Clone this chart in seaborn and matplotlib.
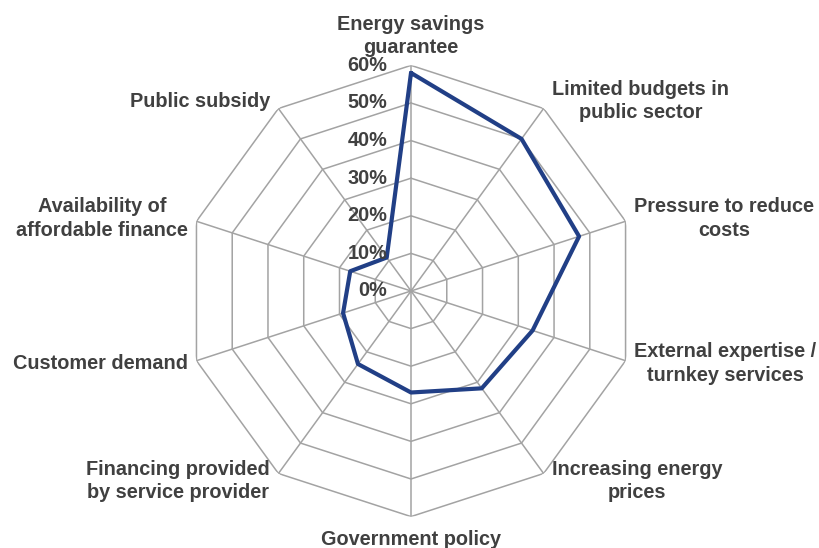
import numpy as np
import pandas as pd
import matplotlib
matplotlib.use("Agg")
import matplotlib.pyplot as plt
import seaborn as sns

categories = [
    "Energy savings\nguarantee",
    "Limited budgets in\npublic sector",
    "Pressure to reduce\ncosts",
    "External expertise /\nturnkey services",
    "Increasing energy\nprices",
    "Government policy",
    "Financing provided\nby service provider",
    "Customer demand",
    "Availability of\naffordable finance",
    "Public subsidy",
]
shares = [58, 50, 47, 34, 32, 27, 24, 19, 17, 11]
rings = [0, 10, 20, 30, 40, 50, 60]
ring_labels = ["0%", "10%", "20%", "30%", "40%", "50%", "60%"]

sns.set_theme(style="white")
plt.rcParams["font.family"] = ["Liberation Sans", "DejaVu Sans"]

text_color = "#404040"
grid_color = "#a3a3a3"
line_color = "#213f86"
font_size = 14.3

n = len(categories)
angles = np.arange(n) * 2 * np.pi / n

fig = plt.figure(figsize=(8.19, 5.48), dpi=100)
ax = fig.add_axes([0.2264, 0.0573, 0.5509, 0.8234], projection="polar")
ax.set_theta_offset(np.pi / 2)
ax.set_theta_direction(-1)
ax.set_ylim(0, 60)
ax.grid(False)
ax.spines["polar"].set_visible(False)
ax.set_xticks([])
ax.set_yticks([])
ax.set_facecolor("white")

# decagonal web: rings and spokes
closed_angles = np.append(angles, angles[0])
for r in rings[1:]:
    ax.plot(closed_angles, [r] * (n + 1), color=grid_color, lw=1.1, zorder=1)
for a in angles:
    ax.plot([a, a], [0, 60], color=grid_color, lw=1.1, zorder=1)

# data series
df = pd.DataFrame({
    "angle": np.append(angles, 2 * np.pi),
    "share": shares + [shares[0]],
})
sns.lineplot(data=df, x="angle", y="share", sort=False, ax=ax,
             color=line_color, lw=3.0, zorder=3)
ax.set_xlabel("")
ax.set_ylabel("")

# ring value labels along the top spoke
for r, lab in zip(rings, ring_labels):
    ax.annotate(lab, xy=(0, r), xytext=(-17, 0), textcoords="offset points",
                ha="right", va="center", fontsize=font_size, fontweight="bold",
                color=text_color)

# category labels outside each vertex
for a, lab in zip(angles, categories):
    s = np.sin(a)
    c = np.cos(a)
    if abs(s) < 0.01:
        ha = "center"
        dx = 0
        dy = 6 if c > 0 else -10
        va = "bottom" if c > 0 else "top"
    else:
        ha = "left" if s > 0 else "right"
        dx = 6 if s > 0 else -6
        dy = 6.5 * c
        va = "center"
    ax.annotate(lab, xy=(a, 60), xytext=(dx, dy), textcoords="offset points",
                ha=ha, va=va, multialignment="center", fontsize=font_size,
                fontweight="bold", color=text_color, linespacing=1.3,
                annotation_clip=False)

fig.savefig("out.png", dpi=100)
